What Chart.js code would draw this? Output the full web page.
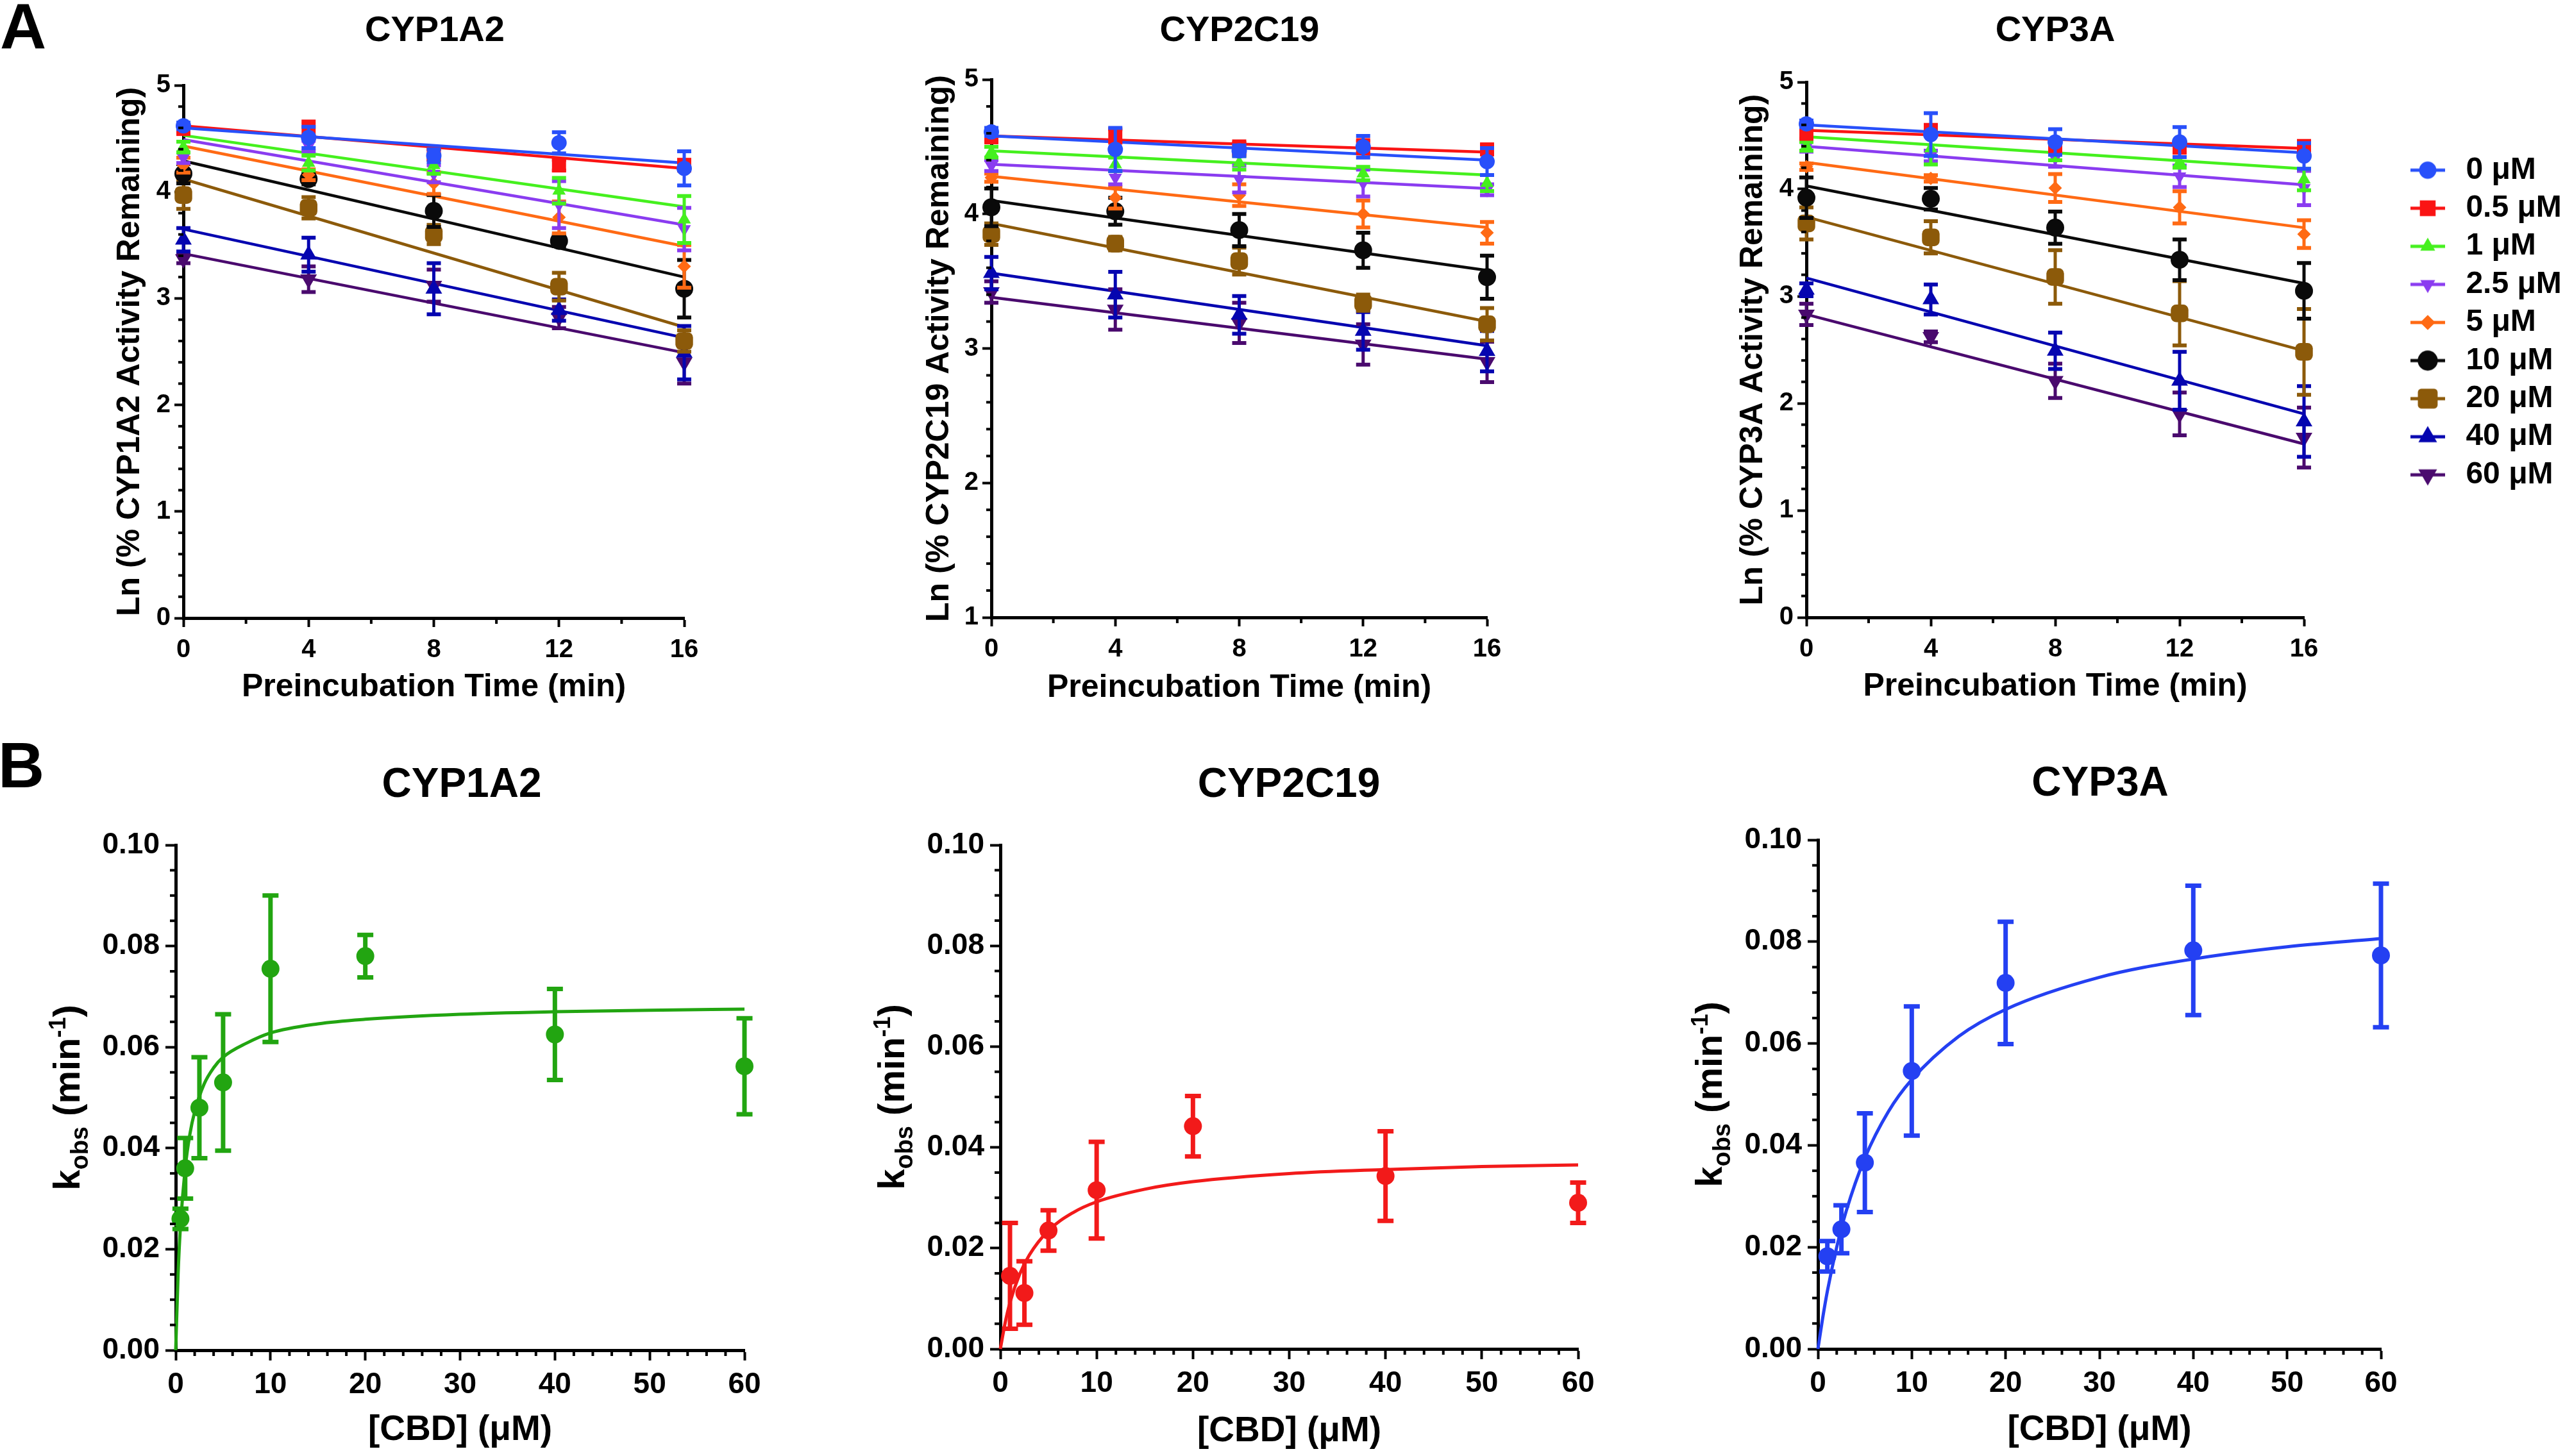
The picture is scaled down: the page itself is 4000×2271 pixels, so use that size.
<!DOCTYPE html>
<html><head><meta charset="utf-8">
<script src="https://cdn.jsdelivr.net/npm/chart.js@4.4.1/dist/chart.umd.min.js"></script>
<style>
html,body{margin:0;padding:0;background:#fff;width:4000px;height:2271px;overflow:hidden;position:relative;font-family:'Liberation Sans',Arial,Helvetica,sans-serif;}
canvas{position:absolute;}
.t{position:absolute;font-weight:bold;color:#000;white-space:nowrap;line-height:1;}
.c{text-align:center;width:800px;}
</style></head><body>
<div class="t" style="left:0px;top:-9px;font-size:100px;">A</div>
<div class="t" style="left:-3px;top:1143px;font-size:100px;">B</div>
<div class="t c" style="left:278px;top:17px;font-size:56px;">CYP1A2</div>
<div class="t c" style="left:1533px;top:17px;font-size:56px;">CYP2C19</div>
<div class="t c" style="left:2805px;top:17px;font-size:56px;">CYP3A</div>
<div class="t c" style="left:320px;top:1189px;font-size:64px;">CYP1A2</div>
<div class="t c" style="left:1610px;top:1189px;font-size:64px;">CYP2C19</div>
<div class="t c" style="left:2875px;top:1187px;font-size:64px;">CYP3A</div>
<canvas id="a1"></canvas><canvas id="a2"></canvas><canvas id="a3"></canvas><canvas id="leg"></canvas>
<canvas id="b1"></canvas><canvas id="b2"></canvas><canvas id="b3"></canvas>
<script>
// ================= DATA =================
const preincTime = [0, 4, 8, 12, 16];
const cbdLabels = ['0 μM', '0.5 μM', '1 μM', '2.5 μM', '5 μM', '10 μM', '20 μM', '40 μM', '60 μM'];
const lnTicksX = [0, 4, 8, 12, 16];
const lnTicksY = [0, 1, 2, 3, 4, 5];
const lnTicksY2C19 = [1, 2, 3, 4, 5];
const cbdTicksX = [0, 10, 20, 30, 40, 50, 60];
const kobsTicksY = [0, 0.02, 0.04, 0.06, 0.08, 0.10];

// Panel A: Ln(% activity remaining), rows = CBD concentration, cols = preincubation time
const cyp1a2Mean = [
  [4.62, 4.51, 4.34, 4.46, 4.22],
  [4.59, 4.58, 4.35, 4.25, 4.25],
  [4.42, 4.27, 4.25, 4.01, 3.74],
  [4.32, 4.43, 4.17, 3.88, 3.65],
  [4.25, 4.16, 4.08, 3.76, 3.30],
  [4.17, 4.12, 3.82, 3.54, 3.09],
  [3.97, 3.85, 3.60, 3.11, 2.60],
  [3.55, 3.41, 3.09, 2.89, 2.49],
  [3.37, 3.18, 3.12, 2.82, 2.40]];
const cyp1a2Sd = [
  [0.03, 0.10, 0.06, 0.10, 0.16],
  [0.04, 0.08, 0.05, 0.05, 0.05],
  [0.05, 0.07, 0.08, 0.12, 0.22],
  [0.05, 0.05, 0.08, 0.22, 0.20],
  [0.07, 0.05, 0.10, 0.15, 0.20],
  [0.09, 0.05, 0.15, 0.05, 0.27],
  [0.13, 0.10, 0.09, 0.13, 0.10],
  [0.11, 0.16, 0.24, 0.10, 0.25],
  [0.04, 0.12, 0.15, 0.10, 0.20]];
const cyp1a2FitStart = [4.60, 4.62, 4.53, 4.49, 4.43, 4.29, 4.12, 3.65, 3.42];
const cyp1a2FitEnd   = [4.27, 4.22, 3.86, 3.69, 3.49, 3.20, 2.73, 2.63, 2.49];

const cyp2c19Mean = [
  [4.61, 4.48, 4.47, 4.50, 4.39],
  [4.57, 4.58, 4.49, 4.50, 4.48],
  [4.46, 4.37, 4.38, 4.30, 4.23],
  [4.36, 4.27, 4.26, 4.23, 4.18],
  [4.27, 4.12, 4.14, 4.00, 3.86],
  [4.05, 4.02, 3.88, 3.73, 3.53],
  [3.85, 3.78, 3.65, 3.34, 3.18],
  [3.56, 3.40, 3.25, 3.13, 2.98],
  [3.42, 3.29, 3.19, 3.03, 2.90]];
const cyp2c19Sd = [
  [0.03, 0.16, 0.04, 0.08, 0.10],
  [0.03, 0.05, 0.05, 0.05, 0.03],
  [0.04, 0.05, 0.05, 0.05, 0.06],
  [0.04, 0.05, 0.10, 0.10, 0.04],
  [0.03, 0.08, 0.08, 0.10, 0.08],
  [0.14, 0.10, 0.12, 0.13, 0.16],
  [0.08, 0.05, 0.10, 0.06, 0.12],
  [0.12, 0.17, 0.14, 0.14, 0.15],
  [0.08, 0.15, 0.15, 0.15, 0.15]];
const cyp2c19FitStart = [4.58, 4.58, 4.47, 4.37, 4.28, 4.10, 3.93, 3.56, 3.38];
const cyp2c19FitEnd   = [4.40, 4.46, 4.29, 4.19, 3.90, 3.58, 3.20, 3.02, 2.92];

const cyp3aMean = [
  [4.61, 4.51, 4.44, 4.44, 4.31],
  [4.52, 4.55, 4.40, 4.39, 4.40],
  [4.40, 4.38, 4.35, 4.25, 4.09],
  [4.40, 4.31, 4.29, 4.12, 4.01],
  [4.21, 4.10, 4.01, 3.83, 3.58],
  [3.92, 3.91, 3.64, 3.34, 3.05],
  [3.68, 3.55, 3.18, 2.84, 2.48],
  [3.06, 2.97, 2.49, 2.21, 1.83],
  [2.83, 2.62, 2.21, 1.90, 1.68]];
const cyp3aSd = [
  [0.03, 0.20, 0.12, 0.14, 0.12],
  [0.05, 0.05, 0.05, 0.05, 0.05],
  [0.04, 0.15, 0.08, 0.05, 0.10],
  [0.05, 0.05, 0.08, 0.10, 0.16],
  [0.03, 0.03, 0.13, 0.15, 0.13],
  [0.19, 0.10, 0.15, 0.19, 0.26],
  [0.15, 0.15, 0.25, 0.30, 0.40],
  [0.06, 0.14, 0.17, 0.27, 0.33],
  [0.10, 0.05, 0.16, 0.20, 0.28]];
const cyp3aFitStart = [4.60, 4.55, 4.49, 4.40, 4.25, 4.03, 3.74, 3.17, 2.83];
const cyp3aFitEnd   = [4.34, 4.38, 4.19, 4.04, 3.64, 3.12, 2.49, 1.90, 1.62];

// Panel B: kobs vs [CBD]
const cbdConc1A2 = [0.5, 1, 2.5, 5, 10, 20, 40, 60];
const kobs1A2    = [0.026, 0.036, 0.048, 0.053, 0.0755, 0.078, 0.0625, 0.0562];
const kobsSd1A2  = [0.002, 0.006, 0.010, 0.0135, 0.0145, 0.0042, 0.009, 0.0095];
const curveConc1A2 = [0, 0.25, 0.5, 1, 1.5, 2, 3, 4, 5, 7.5, 10, 15, 20, 30, 40, 50, 60];
const curveKobs1A2 = [0, 0.0149, 0.0245, 0.036, 0.0428, 0.0472, 0.0527, 0.0559, 0.058, 0.0608, 0.0628, 0.0646, 0.0655, 0.0665, 0.067, 0.0673, 0.0675];

const cbdConc2C19 = [1, 2.5, 5, 10, 20, 40, 60];
const kobs2C19    = [0.0145, 0.0111, 0.0235, 0.0315, 0.0442, 0.0343, 0.029];
const kobsSd2C19  = [0.0105, 0.0063, 0.004, 0.0096, 0.006, 0.0089, 0.004];
const curveConc2C19 = [0, 0.5, 1, 2, 3, 5, 7.5, 10, 15, 20, 30, 40, 50, 60];
const curveKobs2C19 = [0, 0.0052, 0.0092, 0.0148, 0.0186, 0.0235, 0.027, 0.0292, 0.0317, 0.0332, 0.0348, 0.0356, 0.0362, 0.0365];

const cbdConc3A = [1, 2.5, 5, 10, 20, 40, 60];
const kobs3A    = [0.0182, 0.0235, 0.0366, 0.0546, 0.0719, 0.0783, 0.0773];
const kobsSd3A  = [0.003, 0.0047, 0.0097, 0.0127, 0.012, 0.0127, 0.0141];
const curveConc3A = [0, 0.5, 1, 2, 3, 5, 7.5, 10, 15, 20, 30, 40, 50, 60];
const curveKobs3A = [0, 0.006, 0.0113, 0.02, 0.027, 0.0375, 0.0466, 0.0529, 0.0614, 0.0667, 0.073, 0.0766, 0.079, 0.0806];

// ================= STYLE / LAYOUT =================
const FONT = "'Liberation Sans', Arial, Helvetica, sans-serif";
const seriesColors = ['#2850fa', '#fa1414', '#45f01e', '#8a3cf0', '#ff6a14', '#0a0a0a', '#8c5a0a', '#0505b0', '#4a0a6e'];
const markerStyles = [
  {style: 'circle', r: 12, rot: 0}, {style: 'rect', r: 15.5, rot: 0}, {style: 'triangle', r: 12, rot: 0},
  {style: 'triangle', r: 12, rot: 180}, {style: 'rectRot', r: 10.5, rot: 0}, {style: 'circle', r: 14, rot: 0},
  {style: 'rectRounded', r: 16, rot: 0}, {style: 'triangle', r: 15, rot: 0}, {style: 'triangle', r: 15, rot: 180}];
const LAYOUT = {
  a1: {canvas: [140, 60, 1180, 1080], area: [286, 1067, 133, 964], yW: 113, xH: 138},
  a2: {canvas: [1400, 60, 1180, 1080], area: [1546, 2319, 124, 963], yW: 111, xH: 140},
  a3: {canvas: [2670, 60, 1060, 1080], area: [2817, 3593, 128, 963], yW: 113, xH: 138},
  leg: {canvas: [3739, 230, 700, 600]},
  b1: {canvas: [60, 1250, 1220, 1021], area: [274, 1161, 1318, 2106], yW: 190, xH: 158},
  b2: {canvas: [1340, 1250, 1240, 1021], area: [1560, 2461, 1318, 2104], yW: 190, xH: 162},
  b3: {canvas: [2620, 1250, 1200, 1021], area: [2835, 3713, 1310, 2104], yW: 190, xH: 160}
};

function placeCanvas(id, c) {
  const el = document.getElementById(id);
  el.width = c[2]; el.height = c[3];
  el.style.left = c[0] + 'px'; el.style.top = c[1] + 'px';
  el.style.width = c[2] + 'px'; el.style.height = c[3] + 'px';
  return el;
}
function padFor(L) {
  const c = L.canvas, a = L.area;
  return {left: a[0] - c[0] - L.yW, right: c[0] + c[2] - a[1], top: a[2] - c[1], bottom: c[1] + c[3] - a[3] - L.xH};
}

const decorPlugin = {
  id: 'decor',
  beforeDatasetDraw(chart, args, opts) {
    const ds = chart.data.datasets[args.index];
    if (!ds.errorBars) return;
    const xs = chart.scales.x, ys = chart.scales.y, ctx = chart.ctx;
    ctx.save();
    ctx.strokeStyle = ds.pointBackgroundColor;
    ctx.lineCap = 'butt';
    ds.data.forEach((p, j) => {
      const e = ds.errorBars[j];
      if (!e) return;
      const px = xs.getPixelForValue(p.x);
      const y1 = ys.getPixelForValue(p.y + e), y2 = ys.getPixelForValue(p.y - e);
      ctx.lineWidth = opts.barWidth;
      ctx.beginPath(); ctx.moveTo(px, y1); ctx.lineTo(px, y2); ctx.stroke();
      ctx.lineWidth = opts.capThick;
      ctx.beginPath();
      ctx.moveTo(px - opts.capHalf, y1); ctx.lineTo(px + opts.capHalf, y1);
      ctx.moveTo(px - opts.capHalf, y2); ctx.lineTo(px + opts.capHalf, y2);
      ctx.stroke();
    });
    ctx.restore();
  },
  afterDraw(chart, args, opts) {
    const ctx = chart.ctx, xs = chart.scales.x, ys = chart.scales.y, ca = chart.chartArea;
    if (!opts.minorX) return;
    ctx.save();
    ctx.strokeStyle = '#000';
    ctx.lineWidth = opts.minorWidth;
    const isMajor = (sc, v) => sc.ticks.some(t => Math.abs(t.value - v) < 1e-9);
    for (let k = 0; ; k++) {
      const v = xs.min + k * opts.minorX;
      if (v > xs.max + 1e-9) break;
      if (isMajor(xs, v)) continue;
      const px = xs.getPixelForValue(v);
      ctx.beginPath(); ctx.moveTo(px, ca.bottom); ctx.lineTo(px, ca.bottom + opts.minorLenX); ctx.stroke();
    }
    for (let k = 0; ; k++) {
      const v = ys.min + k * opts.minorY;
      if (v > ys.max + 1e-9) break;
      if (isMajor(ys, v)) continue;
      const py = ys.getPixelForValue(v);
      ctx.beginPath(); ctx.moveTo(ca.left, py); ctx.lineTo(ca.left - opts.minorLenY, py); ctx.stroke();
    }
    if (opts.richY) {
      const parts = opts.richY.parts;
      let total = 0;
      const widths = parts.map(p => { ctx.font = 'bold ' + p.size + 'px ' + FONT; const w = ctx.measureText(p.t).width; total += w; return w; });
      ctx.translate(ca.left - opts.richY.offset, (ca.top + ca.bottom) / 2);
      ctx.rotate(-Math.PI / 2);
      ctx.fillStyle = '#000'; ctx.textAlign = 'left'; ctx.textBaseline = 'alphabetic';
      let x = -total / 2;
      parts.forEach((p, i) => { ctx.font = 'bold ' + p.size + 'px ' + FONT; ctx.fillText(p.t, x, p.dy || 0); x += widths[i]; });
    }
    ctx.restore();
  }
};
Chart.register(decorPlugin);

function axis(fontSize, tickLen, pad, tickValues, fmt) {
  const o = {
    type: 'linear',
    min: tickValues[0], max: tickValues[tickValues.length - 1],
    afterBuildTicks: s => { s.ticks = tickValues.map(v => ({value: v})); },
    ticks: {font: {family: FONT, size: fontSize, weight: 'bold'}, color: '#000', padding: pad, autoSkip: false, maxRotation: 0, minRotation: 0},
    grid: {display: true, drawOnChartArea: false, drawTicks: true, tickLength: tickLen, tickWidth: 4, tickColor: '#000'},
    border: {display: true, color: '#000', width: 5}
  };
  if (fmt) o.ticks.callback = fmt;
  return o;
}

function lnPanel(id, yTicks, mean, sd, fitStart, fitEnd, yTitle) {
  const L = LAYOUT[id];
  const cv = placeCanvas(id, L.canvas);
  const datasets = [];
  mean.forEach((row, i) => {
    const m = markerStyles[i];
    datasets.push({label: cbdLabels[i], data: preincTime.map((t, j) => ({x: t, y: row[j]})), errorBars: sd[i],
      showLine: false, pointStyle: m.style, pointRotation: m.rot, pointRadius: m.r, pointHoverRadius: m.r,
      pointBackgroundColor: seriesColors[i], pointBorderColor: seriesColors[i], pointBorderWidth: 0,
      borderColor: seriesColors[i], clip: false, order: 0});
  });
  fitStart.forEach((v, i) => {
    datasets.push({label: cbdLabels[i] + ' fit', data: [{x: preincTime[0], y: v}, {x: preincTime[preincTime.length - 1], y: fitEnd[i]}],
      showLine: true, pointRadius: 0, borderColor: seriesColors[i], borderWidth: 4.5, clip: false, order: 1});
  });
  const xA = axis(40, 14, 12, lnTicksX);
  xA.title = {display: true, text: 'Preincubation Time (min)', color: '#000', font: {family: FONT, size: 50, weight: 'bold'}, padding: 0};
  xA.afterFit = s => { s.height = L.xH; };
  const yA = axis(40, 14, 6, yTicks);
  yA.title = {display: true, text: yTitle, color: '#000', font: {family: FONT, size: 50, weight: 'bold'}, padding: 0};
  yA.afterFit = s => { s.width = L.yW; };
  new Chart(cv, {
    type: 'scatter', data: {datasets},
    options: {responsive: false, animation: false, devicePixelRatio: 1, layout: {padding: padFor(L)},
      plugins: {legend: {display: false}, tooltip: {enabled: false},
        decor: {minorX: 2, minorY: 0.2, minorLenX: 9, minorLenY: 8, minorWidth: 4, barWidth: 5, capHalf: 11, capThick: 6}},
      scales: {x: xA, y: yA}}
  });
}

function kobsPanel(id, conc, kobs, sdv, cConc, cKobs, color) {
  const L = LAYOUT[id];
  const cv = placeCanvas(id, L.canvas);
  const datasets = [
    {label: 'kobs', data: conc.map((c, i) => ({x: c, y: kobs[i]})), errorBars: sdv, showLine: false, pointStyle: 'circle',
      pointRadius: 14, pointHoverRadius: 14, pointBackgroundColor: color, pointBorderColor: color, pointBorderWidth: 0, borderColor: color, clip: false, order: 0},
    {label: 'fit', data: cConc.map((c, i) => ({x: c, y: cKobs[i]})), showLine: true, pointRadius: 0, borderColor: color, borderWidth: 5,
      cubicInterpolationMode: 'monotone', clip: false, order: 1}
  ];
  const xA = axis(46, 16, 11, cbdTicksX);
  xA.title = {display: true, text: '[CBD] (μM)', color: '#000', font: {family: FONT, size: 55, weight: 'bold'}, padding: 0};
  xA.afterFit = s => { s.height = L.xH; };
  const yA = axis(46, 16, 9, kobsTicksY, v => Number(v).toFixed(2));
  yA.afterFit = s => { s.width = L.yW; };
  new Chart(cv, {
    type: 'scatter', data: {datasets},
    options: {responsive: false, animation: false, devicePixelRatio: 1, layout: {padding: padFor(L)},
      plugins: {legend: {display: false}, tooltip: {enabled: false},
        decor: {minorX: 2, minorY: 0.005, minorLenX: 9, minorLenY: 9, minorWidth: 4, barWidth: 7, capHalf: 12.5, capThick: 7,
          richY: {offset: 150, parts: [{t: 'k', size: 58}, {t: 'obs', size: 38, dy: 13}, {t: ' (min', size: 58}, {t: '-1', size: 36, dy: -22}, {t: ')', size: 58}]}}},
      scales: {x: xA, y: yA}}
  });
}

lnPanel('a1', lnTicksY, cyp1a2Mean, cyp1a2Sd, cyp1a2FitStart, cyp1a2FitEnd, 'Ln (% CYP1A2 Activity Remaining)');
lnPanel('a2', lnTicksY2C19, cyp2c19Mean, cyp2c19Sd, cyp2c19FitStart, cyp2c19FitEnd, 'Ln (% CYP2C19 Activity Remaining)');
lnPanel('a3', lnTicksY, cyp3aMean, cyp3aSd, cyp3aFitStart, cyp3aFitEnd, 'Ln (% CYP3A Activity Remaining)');
kobsPanel('b1', cbdConc1A2, kobs1A2, kobsSd1A2, curveConc1A2, curveKobs1A2, '#22a511');
kobsPanel('b2', cbdConc2C19, kobs2C19, kobsSd2C19, curveConc2C19, curveKobs2C19, '#f21a1a');
kobsPanel('b3', cbdConc3A, kobs3A, kobsSd3A, curveConc3A, curveKobs3A, '#2440f2');

// ----- legend (own chart, beside CYP3A panel) -----
function drawMarker(ctx, style, r, rot, x, y) {
  ctx.beginPath();
  if (style === 'circle') { ctx.arc(x, y, r, 0, Math.PI * 2); }
  else if (style === 'rect') { const s = r * Math.SQRT1_2; ctx.rect(x - s, y - s, 2 * s, 2 * s); }
  else if (style === 'rectRounded') { const h = r * 0.86, cr = r * 0.3; ctx.roundRect(x - h, y - h, 2 * h, 2 * h, cr); }
  else if (style === 'rectRot') { ctx.moveTo(x, y - r); ctx.lineTo(x + r, y); ctx.lineTo(x, y + r); ctx.lineTo(x - r, y); ctx.closePath(); }
  else if (style === 'triangle') {
    let a = rot * Math.PI / 180;
    for (let k = 0; k < 3; k++) { const px = x + Math.sin(a) * r, py = y - Math.cos(a) * r; if (k === 0) ctx.moveTo(px, py); else ctx.lineTo(px, py); a += 2 * Math.PI / 3; }
    ctx.closePath();
  }
  ctx.fill();
}
const legendIcons = seriesColors.map((col, i) => {
  const c = document.createElement('canvas'); c.width = 54; c.height = 40;
  const g = c.getContext('2d');
  g.strokeStyle = col; g.fillStyle = col; g.lineWidth = 5;
  g.beginPath(); g.moveTo(0, 20); g.lineTo(54, 20); g.stroke();
  const m = markerStyles[i];
  drawMarker(g, m.style, m.r * 1.12, m.rot, 27, 20);
  return c;
});
const legCanvas = placeCanvas('leg', LAYOUT.leg.canvas);
new Chart(legCanvas, {
  type: 'scatter',
  data: {datasets: cbdLabels.map((lab, i) => ({label: lab, data: [], borderColor: seriesColors[i], backgroundColor: seriesColors[i]}))},
  options: {responsive: false, animation: false, devicePixelRatio: 1, layout: {padding: 0},
    scales: {x: {display: false}, y: {display: false}},
    plugins: {tooltip: {enabled: false},
      legend: {display: true, position: 'left', align: 'start', maxWidth: 340,
        labels: {usePointStyle: true, pointStyleWidth: 71, padding: 11.4, color: '#000',
          font: {family: FONT, size: 48, weight: 'bold'},
          generateLabels: ch => ch.data.datasets.map((ds, i) => ({text: ds.label, fillStyle: seriesColors[i], strokeStyle: seriesColors[i],
            lineWidth: 0, pointStyle: legendIcons[i], rotation: 0, hidden: false, datasetIndex: i, fontColor: '#000'}))}}}}
});
</script>
</body></html>
